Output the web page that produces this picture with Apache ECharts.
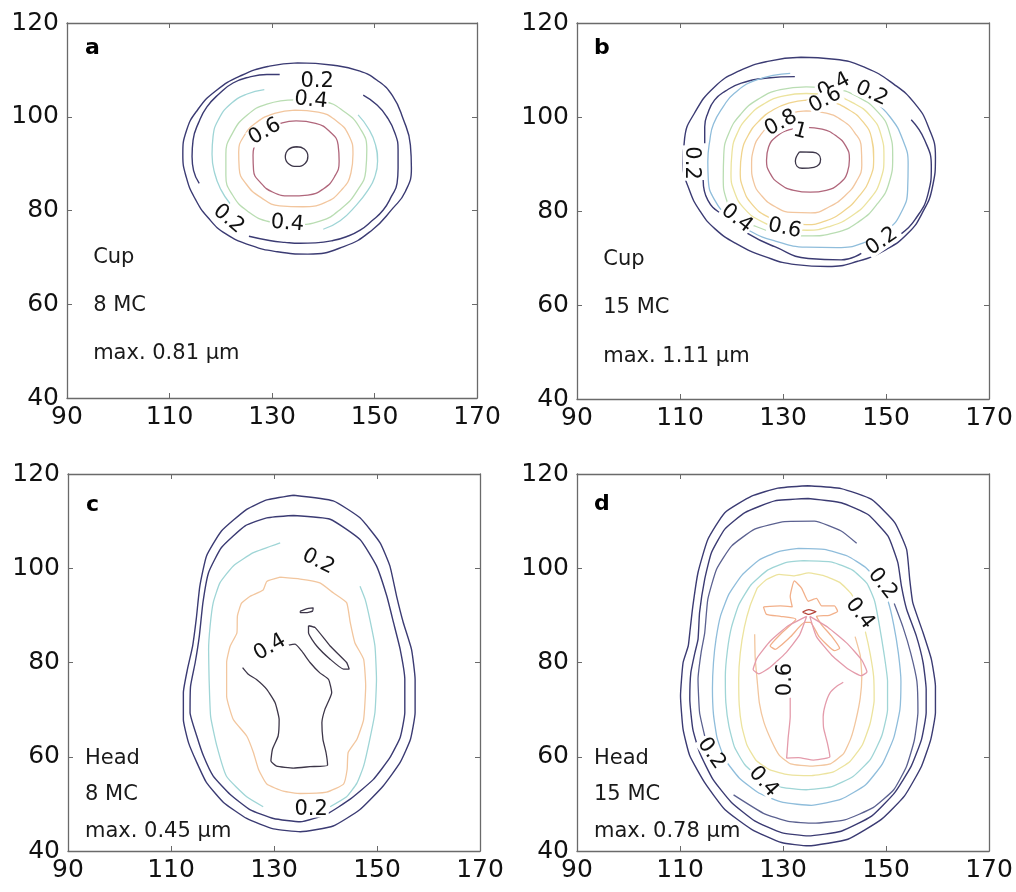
<!DOCTYPE html>
<html><head><meta charset="utf-8">
<script src="https://cdn.jsdelivr.net/npm/echarts@6/dist/echarts.min.js"></script>
<style>html,body{margin:0;padding:0;background:#fff}#c{width:1016px;height:892px}</style>
</head><body><div id="c"></div>
<script>
// ---------- axes ----------
const xMin = 90, xMax = 170, xStep = 20;
const yMin = 40, yMax = 120, yStep = 20;

// ---------- panel texts ----------
const panelLetters = ['a', 'b', 'c', 'd'];
const panelObject = ['Cup', 'Cup', 'Head', 'Head'];
const panelMC = ['8 MC', '15 MC', '8 MC', '15 MC'];
const panelMax = ['max. 0.81 μm', 'max. 1.11 μm', 'max. 0.45 μm', 'max. 0.78 μm'];

// ---------- panel a: Cup, 8 MC ----------
const a_l01 = [[135,111.5],[142,111],[147,109.8],[150.5,107.8],[153.5,104.5],[155.6,99.5],[157,94],[157.2,89],[156,84],[153.6,80.5],[149.5,75.8],[144,72.3],[137,70.7],[131,71.2],[126,72.5],[121,75],[117.5,78.5],[115,82.5],[113.3,87],[112.6,92],[113.3,97],[115.5,101.5],[119,105.5],[124,108.8],[129.5,110.8],[135,111.5]];
const a_l02a = [[147.8,104.6],[150.5,102.5],[152.4,100],[154,96.5],[154.6,92.9],[154.6,89],[154.4,85.8],[153.3,83],[151.7,80.1],[149.5,77.8],[147.2,75.8],[144.5,74.4],[141.9,73.6],[138.5,73.1],[135.5,73],[132.5,73.2],[129.5,73.6],[125.5,74.5]];
const a_l02b = [[115.8,85.8],[114.7,88.5],[114.4,91.5],[114.6,95],[115.7,98.8],[117.3,102.1],[119.7,104.9],[122.4,107.2],[125.7,108.5],[129,109],[131.5,109]];
const a_l03a = [[128.5,105.8],[125,104.8],[121.8,102.6],[119.6,99.5],[118.5,95.8],[118.3,92],[118.8,88],[120,84.5],[121.8,81.5]];
const a_l03b = [[146.8,100.4],[148.8,97.5],[150.2,94],[150.6,90.5],[150,87],[148.7,84.3],[146.5,81.2],[143.3,77.8],[140,76]];
const a_l04 = [[134.5,103.6],[140,103.2],[144.2,101],[147.2,97.5],[148.5,93],[148.3,88.5],[146.6,84.2],[143.6,80.5],[139.5,77.8],[134.5,77],[129.5,77.6],[125.3,79.8],[122.3,83.3],[121,87.5],[121,92],[122.3,96.5],[125,100.2],[129,102.7],[134.5,103.6]];
const a_l05 = [[134.5,101.4],[139,101],[142.7,99],[145,96],[145.8,92],[145.4,88],[143.5,84.3],[140.3,81.7],[136,80.8],[131.5,81],[127.8,82.8],[125,85.6],[123.6,89],[123.5,92.5],[124.6,96],[127,98.8],[130.5,100.7],[134.5,101.4]];
const a_l06 = [[134.7,99.1],[138.5,98.6],[141.3,96.8],[142.9,94],[143.1,90.5],[142.2,87.2],[140,84.6],[137,83.3],[133.5,83.1],[130.2,83.9],[127.8,85.9],[126.4,88.6],[126.3,91.8],[127.3,94.9],[129.5,97.4],[132,98.7],[134.7,99.1]];
const a_l08 = [[134.8,93.6],[136.3,93.1],[137,91.6],[136.5,90.1],[134.9,89.4],[133.3,89.9],[132.6,91.4],[133.2,93],[134.8,93.6]];
const a_labels = [[138.8,107.6,'0.2',0],[137.6,103.5,'0.4',-6],[128.6,96.8,'0.6',30],[121.5,78.2,'0.2',-40],[133,77.2,'0.4',-5]];

// ---------- panel b: Cup, 15 MC ----------
const b_l01 = [[133.5,112.7],[140,112.3],[146,110.5],[151.5,107],[155.5,103],[158.2,98],[159.6,91.5],[159,85],[157,79.5],[154.3,75.3],[150,71.8],[144.5,69.3],[138.7,68.2],[132.5,68.6],[126.5,70.3],[121,73],[116.8,76.2],[114,79.8],[111.8,84.5],[110.6,90],[110.9,95.5],[112.8,100.8],[116.7,106.4],[121.5,109.8],[127.3,111.9],[133.5,112.7]];
const b_l02a = [[132.3,108.6],[127,108.3],[121.9,107.2],[118.8,105.5],[116.7,103.6],[115.4,100.8],[114.8,97.9],[114.8,94.4]];
const b_l02b = [[114.5,86.6],[115.4,82.3],[118.7,78.8],[123.2,75.2],[128.4,72.4],[134.9,69.9],[141.3,69.6],[145.2,71]];
const b_l02c = [[153,75.2],[155.6,78.1],[158.2,83.8],[158.8,89.4],[157.5,95.1],[154.9,99.4]];
const b_l03 = [[131.4,109.3],[124.9,107.9],[120.5,105],[118.4,102.2],[116.5,98.5],[115.8,95.1],[115.4,90.5],[115.5,86.6],[116.8,82.2],[119.5,78.8],[123.5,75.8],[128.5,73.6],[134.5,72.3],[140.5,72.2],[146,73.4],[150.3,76],[153,79.8],[154.2,84.5],[154.3,90],[153.2,95.3],[150.8,100],[147.5,103.5]];
const b_l04 = [[134.5,106.4],[140,106],[144.5,104.3],[148.3,101.2],[150.6,97],[151.3,91.5],[150.6,86],[148.3,81.5],[144.8,77.8],[140.2,75.4],[134.8,74.7],[129.5,75.2],[124.8,76.7],[121,79],[119,82.5],[118.4,87],[118.5,92],[119.5,96.6],[121.8,100.6],[125.2,103.8],[129.5,105.8],[134.5,106.4]];
const b_l05 = [[134.5,105],[139.5,104.6],[143.6,103],[147,100.2],[149,96.3],[149.6,91.5],[148.9,86.5],[146.7,82.3],[143.4,79],[139.3,76.8],[134.7,75.9],[130,76.3],[125.8,77.8],[122.5,80.5],[120.6,84],[119.9,88],[120.1,92.5],[121.1,96.5],[123.2,100],[126.3,102.8],[130.2,104.5],[134.5,105]];
const b_l06 = [[134.5,103.6],[139,103.2],[142.7,101.6],[145.5,99],[147.2,95.5],[147.6,91.3],[146.9,87],[144.8,83.2],[141.8,80],[138.3,77.9],[134.5,77.1],[130.5,77.4],[126.8,78.9],[124,81.4],[122.3,84.7],[121.7,88.4],[122,92.4],[123.2,96],[125.3,99.1],[128.2,101.6],[131.3,103],[134.5,103.6]];
const b_l07 = [[134.5,101.3],[138.4,100.8],[141.6,99.2],[143.9,96.7],[145.2,93.5],[145.3,89.8],[144.2,86.2],[142,83.2],[139,80.9],[135.4,79.6],[131.8,79.7],[128.5,80.9],[125.9,83.2],[124.3,86.2],[123.9,89.6],[124.3,93.2],[125.8,96.4],[128.3,99],[131.3,100.7],[134.5,101.3]];
const b_l08 = [[134.5,97.8],[137.6,97.4],[140.3,96],[142.2,93.8],[142.9,91],[142.5,88.2],[140.9,85.8],[138.4,84.4],[135.3,84],[132.1,84.4],[129.3,85.8],[127.5,88],[126.8,90.8],[127.2,93.6],[128.8,95.9],[131.3,97.3],[134.5,97.8]];
const b_l10 = [[133.2,92.6],[135.8,92.5],[137.3,91],[136,89.3],[133.7,89.1],[132.4,90.6],[133.2,92.6]];
const b_labels = [[112.2,90.2,'0.2',-90],[121,78.4,'0.4',-38],[130.3,76.3,'0.6',-12],[149.2,73.5,'0.2',35],[147.2,105,'0.2',-25],[139.9,106.6,'0.4',28],[138.2,103.6,'0.6',28],[129.6,98.7,'0.8',28],[133.3,96.9,'1',-15]];

// ---------- panel c: Head, 8 MC ----------
const c_l01 = [[133.8,115.5],[141.5,114.3],[146.7,110.7],[150.6,105.4],[152.5,100.5],[153.8,94.1],[155.1,88.5],[156.7,82.8],[157.4,76.4],[157.4,69.4],[156.5,63.7],[154.5,58.8],[151.2,53.8],[146.7,48.8],[141.5,45.3],[135.1,44.1],[129.9,44.7],[124.7,46.9],[120.2,50.3],[116.9,54.5],[115,58.8],[113.4,63],[112.4,67.9],[112.4,73.6],[113.2,78.6],[114.2,83.5],[114.9,89.2],[115.6,96.2],[116.9,102.6],[119.8,107.9],[124.7,112.5],[128.6,114.5],[133.8,115.5]];
const c_l02 = [[133.8,111.2],[140.9,110.4],[146.7,106.1],[149.9,100.5],[151.9,94.1],[153.2,88.5],[154.5,82.8],[155.4,76.4],[155.4,69.4],[154.5,64.1],[152.5,59.8],[149.3,55.2],[144.8,51],[140.2,47.8],[135.1,46.2],[129.9,46.9],[125.3,48.8],[121.5,52],[118.2,55.9],[116.3,60.2],[115,64.4],[113.7,69.4],[113.8,75],[114.7,80],[115.5,85.6],[116.2,92.7],[117.3,99.1],[119.8,104.4],[124.4,109],[128.6,110.7],[133.8,111.2]];
const c_l03a = [[131.2,105.4],[126,103.3],[122.1,100.5],[119.5,96.9],[118.2,92.7],[117.6,87.8],[117.3,82.7],[117.4,76.4],[117.7,68.5],[118.9,62.3],[120.8,55.8],[124.7,51.5],[127.9,49.4]];
const c_l03b = [[140.9,49.4],[144.1,51.5],[146.1,54.4],[147.4,58],[148.6,63.7],[149.6,69.4],[149.9,76.4],[149.6,83.5],[148.6,89.2],[147.7,93.4],[146.7,96.2]];
const c_l04 = [[131.2,98.1],[128.6,97.2],[127.9,95.4],[125.3,94],[123.7,92.6],[122.9,89.9],[122.8,86.3],[121.5,83.5],[120.8,80],[120.8,72.9],[122.1,67.9],[124.7,64.4],[126,60.9],[127,57.3],[128.6,54.2],[131.8,52.7],[135.1,52.2],[140.2,52.5],[143.5,54.2],[144.2,57.3],[144.4,60.9],[146.1,63.7],[147.4,67.9],[147.8,75],[147.4,80.7],[145.7,84.2],[144.8,88.5],[144.1,92.7],[141.5,94.8],[138.9,96.9],[135.1,97.7],[131.2,98.1]];
const c_l05 = [[132.5,83.6],[134.1,83.9],[135.4,82.4],[137,80],[138.9,77.8],[140.6,76.4],[141.2,73.6],[139.9,70.1],[139.3,67.2],[139.5,63.7],[140.1,60.9],[140.4,58.2],[137,57.9],[133.8,57.6],[130.5,58],[129.4,59.1],[129.7,61.6],[130.8,64.4],[131,67.9],[130.2,71.5],[128.6,74.3],[126.6,76.4],[125,77.5],[123.9,78.9]];
const c_l05b = [[136.7,87.8],[138,87.4],[140.9,83.5],[144.1,80],[144.6,78.6],[143.5,78.6],[140.9,80.7],[138.3,83.5],[136.7,86.3],[136.7,87.8]];
const c_l05c = [[135.1,90.9],[136.3,91.4],[137.6,91.6],[137.5,90.9],[136.2,90.6],[135.1,90.6],[135.1,90.9]];
const c_labels = [[138.6,101.4,'0.2',-27],[129.2,83.2,'0.4',30],[137.2,48.9,'0.2',0]];

// ---------- panel d: Head, 15 MC ----------
const d_l01 = [[134.9,117.5],[141.3,116.9],[147.2,114.6],[151.7,109.7],[154,104],[154.6,97.7],[155.2,92.7],[157.2,86.3],[158.8,80.7],[159.6,75],[159.6,69.4],[158.7,63.7],[156.9,58],[153.6,51.7],[149.1,46.7],[142.6,42.5],[134.9,41.1],[129.7,41.8],[123.9,44.6],[118.7,48.8],[114.8,54.5],[111.9,60.2],[110.6,65.8],[110.1,72.9],[110.6,80],[111.6,83.5],[111.9,86.3],[112.5,92],[113.5,99.1],[115.4,106.1],[118.7,111.8],[123.9,115.3],[129,117],[134.9,117.5]];
const d_l02 = [[134.9,114.8],[141.3,113.9],[146.5,111.4],[150.4,106.8],[152.3,101.2],[153,96.2],[154,91.3],[155.9,85.6],[157.2,80],[157.8,74.3],[157.8,69.4],[156.9,63.7],[154.9,58],[151.7,52.4],[147.2,47.4],[141.3,44.2],[134.9,43.2],[129.7,43.9],[124.5,46.4],[120,50.3],[116.4,55.2],[113.8,60.9],[112.5,65.8],[111.9,72.2],[112.1,77.8],[112.9,82.1],[113.5,84.9],[113.8,90.6],[114.8,97.7],[116.1,103.3],[118.7,108.3],[122.6,111.8],[128.4,114.3],[134.9,114.8]];
const d_l03a = [[144.3,105.3],[141.3,107.9],[136.1,110],[130.3,109.9],[124.5,108.3],[120,104.7],[117.1,99.8],[115.4,93.4],[114.8,86.3],[114.1,82.1],[113.5,76.4],[113.8,69.4],[114.8,64.4]];
const d_l03b = [[120.4,51.9],[126.2,48],[131,46.3],[135.9,45.9],[142,46.6],[147.5,49.2],[151.5,53],[154,58],[155.5,63.5],[156.2,69.5],[156,76],[154.8,82],[153.3,87.5],[151.6,92.5]];
const d_l04 = [[133,104.2],[138,104],[142.5,102.6],[146,100.2],[148.6,97],[150.4,93],[151.5,88],[152.4,82],[152.9,76],[152.7,70],[151.5,64],[149.3,58.5],[146,54],[141.3,51],[135.5,49.7],[130,50.3],[125.3,52.3],[121.5,55.5],[118.7,59.5],[117.2,64],[116.5,69],[116.3,74.5],[116.5,80],[117,85],[117.9,90],[119.5,94.5],[122,98.5],[125.3,101.7],[129,103.5],[133,104.2]];
const d_l05 = [[134,101.6],[139.5,101.3],[143.5,99.6],[146.3,96.8],[147.8,93],[148.7,88],[149.6,82],[150.3,76],[150.3,70],[149.2,64.5],[147,59.5],[143.6,55.8],[139.3,53.6],[134.5,53],[129.8,53.5],[125.7,55.3],[122.6,58.3],[120.6,62],[119.5,66.5],[118.9,71.5],[118.8,77],[119.2,82.5],[120,87.5],[121.4,92.2],[123.8,96.5],[127,99.6],[130.5,101.2],[134,101.6]];
const d_l06 = [[125,95.8],[126.8,97.6],[129.2,98.7],[132.2,98.4],[135,99],[138,98.4],[141,97],[143.3,94.5],[144.9,90.8],[146,86.5],[146.9,82],[147.6,77],[147.7,72],[146.9,67],[145.4,62.5],[143,59],[139.8,56.8],[135.5,56],[131,56.2],[127.5,57.2],[124.8,59.2],[123,62.5],[122,66.5],[121.5,71],[121.4,76.5],[121.7,82],[122.5,87.5],[123.6,92],[125,95.8]];
const d_l07 = [[126.2,91.8],[129.5,92],[131.8,91.8],[131.4,94],[132.2,97.3],[133.6,95.8],[134.9,93],[136.5,93.6],[137.5,92],[140,92],[140.6,90.9],[139,90],[136.5,89.8],[137.5,88],[139.5,85.5],[141,83],[140,82.5],[137,85.5],[135.3,88.5],[134.2,88.5],[131.5,85.5],[128.5,82.8],[127.5,83.5],[129.5,86],[132.5,89.2],[129.5,89.8],[126.8,90.2],[126.2,91.8]];
const d_l07b = [[124.5,86],[124.6,81],[125,76],[125.4,71.5],[126.3,67.3],[127.8,63.3],[129.3,60.3],[131.5,58.5],[135.5,58],[139.2,58.5],[141.8,60.7],[143.2,64],[144.2,68],[145,72.5],[145.3,77],[145,81.5],[144,85.5]];
const d_l08a = [[134.6,89.8],[131,87.8],[127.5,84.5],[125,81],[124.2,78.5],[125.3,77.6],[127.5,79],[130.5,82],[133.2,85.8],[134.6,89.8]];
const d_l08b = [[135.2,89.8],[138.7,87.5],[142.5,84],[145.3,80.5],[146.3,78],[145.2,77.2],[142.8,78.5],[139.5,81.5],[136.5,85.5],[135.2,89.8]];
const d_l08c = [[131.4,72.5],[131.4,68.5],[131,64],[130.8,61],[130.7,59.7],[133,59.8],[135.9,59.3],[138,59.6],[139.1,60],[138.6,63],[137.9,66],[137.8,68.5],[138.2,71],[139.1,73.5],[140.5,75],[141.7,75.8]];
const d_l09 = [[133.8,90.7],[135,91.2],[136.4,90.8],[135,90.2],[133.8,90.7]];
const d_labels = [[149.3,96.7,'0.2',-52],[144.9,90.4,'0.4',-52],[116.1,60.7,'0.2',-55],[126.2,54.7,'0.4',-48],[130.4,76.4,'0.6',90]];

// ---------- styling (kept apart from the data) ----------
const C = {navy:'#3b3b73', slate:'#5b6190', blue:'#8fbddb', cyan:'#9fd5d6', green:'#b9ddb2', yellow:'#ece39e',
  gold:'#f0d48e', peach:'#f2c69e', orange:'#f2b08a', pink:'#e49bab', rose:'#b0667b', dark:'#3d3649', red:'#b5453a'};

const lines = [
  [0,a_l01,'navy'],[0,a_l02a,'navy'],[0,a_l02b,'navy'],[0,a_l03a,'cyan'],[0,a_l03b,'cyan'],[0,a_l04,'green'],
  [0,a_l05,'peach'],[0,a_l06,'rose'],[0,a_l08,'dark'],
  [1,b_l01,'navy'],[1,b_l02a,'navy'],[1,b_l02b,'navy'],[1,b_l02c,'navy'],[1,b_l03,'blue'],[1,b_l04,'green'],
  [1,b_l05,'yellow'],[1,b_l06,'gold'],[1,b_l07,'peach'],[1,b_l08,'rose'],[1,b_l10,'dark'],
  [2,c_l01,'navy'],[2,c_l02,'navy'],[2,c_l03a,'cyan'],[2,c_l03b,'cyan'],[2,c_l04,'peach'],[2,c_l05,'dark'],
  [2,c_l05b,'dark'],[2,c_l05c,'dark'],
  [3,d_l01,'navy'],[3,d_l02,'navy'],[3,d_l03a,'slate'],[3,d_l03b,'slate'],[3,d_l04,'blue'],[3,d_l05,'cyan'],
  [3,d_l06,'yellow'],[3,d_l07b,'peach'],[3,d_l07,'orange'],[3,d_l08a,'pink'],[3,d_l08b,'pink'],[3,d_l08c,'pink'],[3,d_l09,'red']
];
const contourLabels = [a_labels, b_labels, c_labels, d_labels];

const grids = [
  {left:67, top:23, width:410, height:375},
  {left:577, top:23, width:412, height:376},
  {left:68, top:474, width:412, height:377},
  {left:577, top:474, width:412, height:377}
];
// annotation anchors (layout)
const letterPos = [[93.4,114.7],[93.2,114.7],[93.4,113.3],[93.2,113.6]];
const textX = [95,95,93.2,93.2];
const textY = [[69.9,59.8,49.4],[69.6,59.5,49.0],[59.6,51.9,44.2],[59.6,51.9,44.1]];

const FONT = 'DejaVu Sans';
const xAxes = [], yAxes = [], series = [];
grids.forEach((g, i) => {
  ['bottom','top'].forEach((pos, k) => xAxes.push({
    type:'value', gridIndex:i, position:pos, min:xMin, max:xMax, interval:xStep,
    axisLine:{show:true, onZero:false, lineStyle:{color:'#6a6a6a', width:1.3}},
    axisTick:{show:true, inside:true, length:5, lineStyle:{color:'#6a6a6a'}},
    axisLabel:{show:k===0, fontSize:25, fontFamily:FONT, color:'#111111', margin:7},
    splitLine:{show:false}
  }));
  ['left','right'].forEach((pos, k) => yAxes.push({
    type:'value', gridIndex:i, position:pos, min:yMin, max:yMax, interval:yStep,
    axisLine:{show:true, onZero:false, lineStyle:{color:'#6a6a6a', width:1.3}},
    axisTick:{show:true, inside:true, length:5, lineStyle:{color:'#6a6a6a'}},
    axisLabel:{show:k===0, fontSize:25, fontFamily:FONT, color:'#111111', margin:8},
    splitLine:{show:false}
  }));
});

lines.forEach(([g, pts, col]) => series.push({
  type:'line', xAxisIndex:2*g, yAxisIndex:2*g, data:pts, symbol:'none', silent:true,
  smooth: g < 2 ? 0.5 : 0.15, z:2,
  lineStyle:{color:C[col], width: col==='navy' ? 1.4 : 1.3}
}));

const hidden = {color:'transparent', opacity:1};
contourLabels.forEach((labs, g) => series.push({
  type:'scatter', xAxisIndex:2*g, yAxisIndex:2*g, symbolSize:1, silent:true, z:6,
  itemStyle:hidden,
  data: labs.map(l => ({value:[l[0], l[1]], label:{formatter:l[2], rotate:l[3]}})),
  label:{show:true, position:'inside', fontSize:21, fontFamily:FONT, color:'#111111',
    backgroundColor:'#ffffff', padding:[0,1], lineHeight:17}
}));

grids.forEach((g, i) => {
  series.push({
    type:'scatter', xAxisIndex:2*i, yAxisIndex:2*i, symbolSize:1, silent:true, z:7,
    itemStyle:hidden,
    data:[{value:letterPos[i], label:{formatter:panelLetters[i]}}],
    label:{show:true, position:'right', distance:0, fontFamily:FONT, fontWeight:'bold', fontSize:22, color:'#000000'}
  });
  series.push({
    type:'scatter', xAxisIndex:2*i, yAxisIndex:2*i, symbolSize:1, silent:true, z:7,
    itemStyle:hidden,
    data:[
      {value:[textX[i], textY[i][0]], label:{formatter:panelObject[i]}},
      {value:[textX[i], textY[i][1]], label:{formatter:panelMC[i]}},
      {value:[textX[i], textY[i][2]], label:{formatter:panelMax[i]}}
    ],
    label:{show:true, position:'right', distance:0, fontFamily:FONT, fontSize:21, color:'#1a1a1a'}
  });
});

const chart = echarts.init(document.getElementById('c'), null, {renderer:'canvas'});
chart.setOption({animation:false, backgroundColor:'#ffffff', grid:grids, xAxis:xAxes, yAxis:yAxes, series:series});
</script>
</body></html>
